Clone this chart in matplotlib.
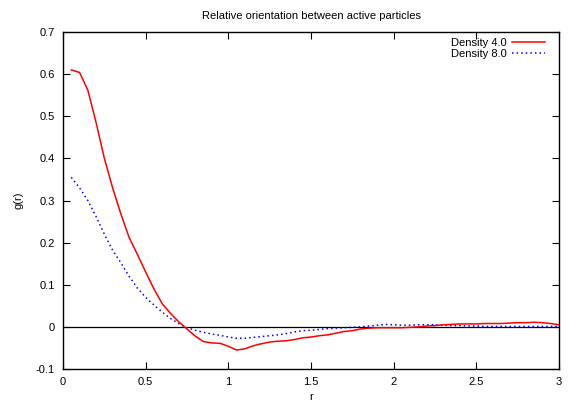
import matplotlib
matplotlib.use("Agg")
import matplotlib.pyplot as plt

plt.rcParams['font.family'] = ['Liberation Sans', 'DejaVu Sans']

# r grid (step 0.05)
r = [0.05, 0.10, 0.15, 0.20, 0.25, 0.30, 0.35, 0.40, 0.45, 0.50,
     0.55, 0.60, 0.65, 0.70, 0.75, 0.80, 0.85, 0.90, 0.95, 1.00,
     1.05, 1.10, 1.15, 1.20, 1.25, 1.30, 1.35, 1.40, 1.45, 1.50,
     1.55, 1.60, 1.65, 1.70, 1.75, 1.80, 1.85, 1.90, 1.95, 2.00,
     2.05, 2.10, 2.15, 2.20, 2.25, 2.30, 2.35, 2.40, 2.45, 2.50,
     2.55, 2.60, 2.65, 2.70, 2.75, 2.80, 2.85, 2.90, 2.95, 3.00]

# Density 4.0
g4 = [0.610, 0.604, 0.562, 0.485, 0.400, 0.330, 0.268, 0.212, 0.172, 0.130,
      0.090, 0.055, 0.032, 0.012, -0.005, -0.022, -0.035, -0.038, -0.039, -0.046,
      -0.055, -0.052, -0.045, -0.040, -0.036, -0.034, -0.033, -0.030, -0.026, -0.024,
      -0.021, -0.019, -0.015, -0.011, -0.009, -0.005, -0.003, -0.002, -0.002, -0.002,
      -0.002, -0.001, 0.000, 0.002, 0.003, 0.005, 0.006, 0.007, 0.007, 0.007,
      0.008, 0.008, 0.008, 0.009, 0.010, 0.010, 0.011, 0.010, 0.008, 0.005]

# Density 8.0
g8 = [0.355, 0.330, 0.300, 0.262, 0.220, 0.182, 0.152, 0.120, 0.092, 0.070,
      0.052, 0.035, 0.020, 0.008, -0.002, -0.008, -0.013, -0.017, -0.020, -0.024,
      -0.027, -0.027, -0.025, -0.023, -0.021, -0.019, -0.016, -0.012, -0.009, -0.008,
      -0.006, -0.004, -0.003, -0.002, -0.001, 0.000, 0.002, 0.004, 0.006, 0.005,
      0.004, 0.004, 0.005, 0.005, 0.005, 0.004, 0.003, 0.003, 0.002, 0.002,
      0.001, 0.001, 0.001, 0.001, 0.001, 0.001, 0.001, 0.001, 0.001, 0.001]

xticks = [0, 0.5, 1, 1.5, 2, 2.5, 3]
xticklabels = ['0', '0.5', '1', '1.5', '2', '2.5', '3']
yticks = [-0.1, 0, 0.1, 0.2, 0.3, 0.4, 0.5, 0.6, 0.7]
yticklabels = ['-0.1', '0', '0.1', '0.2', '0.3', '0.4', '0.5', '0.6', '0.7']

fig = plt.figure(figsize=(5.76, 4.04), dpi=100)
ax = fig.add_axes([0.1094, 0.0866, 0.8611, 0.8342])

ax.axhline(0, color='black', lw=0.9, zorder=1)
ax.plot(r, g4, color='#ff0000', lw=1.1, label='Density 4.0', zorder=3)
ax.plot(r, g8, color='#0000ff', lw=1.1, ls=(0, (1, 2)), label='Density 8.0', zorder=2)

ax.set_xlim(0, 3)
ax.set_ylim(-0.1, 0.7)
ax.set_xticks(xticks)
ax.set_xticklabels(xticklabels)
ax.set_yticks(yticks)
ax.set_yticklabels(yticklabels)
ax.tick_params(direction='in', top=True, right=True, length=5, width=0.8,
               labelsize=8, pad=6)
for s in ax.spines.values():
    s.set_linewidth(1.0)

ax.set_title('Relative orientation between active particles', fontsize=8, pad=9.5)
ax.set_xlabel('r', fontsize=8, labelpad=3)
ax.set_ylabel('g(r)', fontsize=8, labelpad=9)

leg = ax.legend(loc='upper right', fontsize=8, frameon=False, markerfirst=False,
                handlelength=2.9, handletextpad=0.55, labelspacing=0.1,
                borderaxespad=0.0, bbox_to_anchor=(0.98, 0.995))
for t in leg.get_texts():
    t.set_ha('right')

fig.savefig('out.png', dpi=100)
